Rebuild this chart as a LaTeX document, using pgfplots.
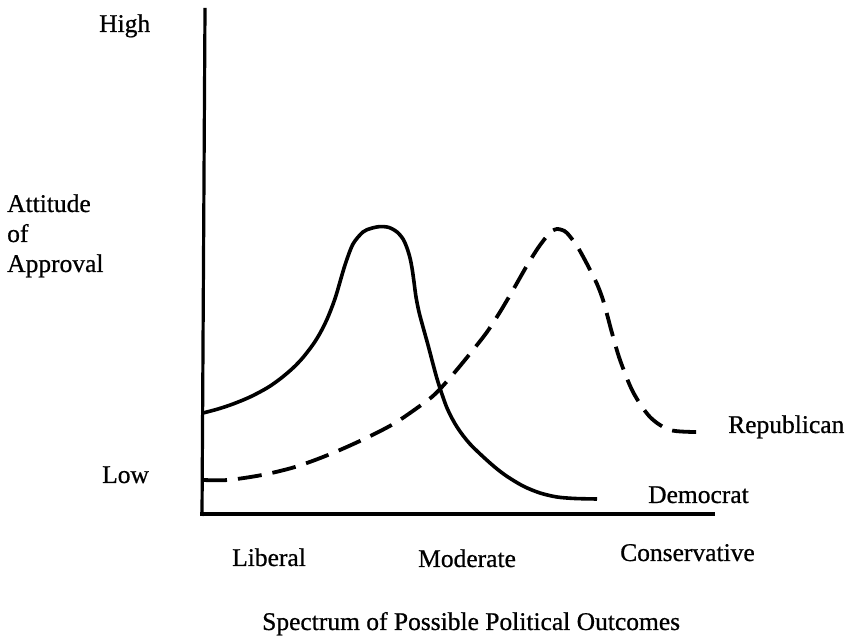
\documentclass[border=0pt]{standalone}
\usepackage{pgfplots}
\pgfplotsset{compat=1.18}
\usepackage{fontspec}
\setmainfont{Liberation Serif}
\newfontfamily\labfont{Liberation Serif}[FakeBold=0.7]
\begin{document}
\begin{tikzpicture}[lab/.style={anchor=base west, font=\labfont\fontsize{25.5}{30}\selectfont, inner sep=0pt}]
\begin{axis}[
  width=850pt, height=634pt, scale only axis,
  xmin=0, xmax=850, ymin=0, ymax=634,
  hide axis, clip=false,
]
% axis lines
\addplot[black, line width=3.2pt] coordinates {(205,626) (202,118)};
\addplot[black, line width=3.2pt] coordinates {(200,120) (715,120)};
% Democrat (solid)
\addplot[black, line width=3.6pt, smooth, tension=0.5] coordinates {
(203,221) (218,225) (233,230) (250,237) (267,246) (280,255) (293,266)
(303,276.5) (313,289.5) (320,300.7) (327,314.7) (333,329.7) (337,341.7)
(345,369) (353,390) (363,402) (371,405.6) (380,407.4) (389,406.5)
(397,402) (403,395) (407,386) (410,376) (412,366) (414,352) (416,337)
(419,322) (423,307) (428,289) (433,270) (438,252) (447,226) (457,207)
(470,190) (490,171) (505,159) (523,148) (540,141) (557,137) (575,135.5)
(597,135)};
% Republican (dashed)
\addplot[black, line width=3.8pt, smooth, tension=0.5, dash pattern=on 24pt off 11pt] coordinates {
(203,154) (228,154) (262,159) (295,167) (328,179) (362,194) (395,211)
(428,234) (440,245) (455,262) (473,284) (487,302) (500,322) (513,344)
(527,368.5) (538,386) (547,398) (552,403) (557,405) (562,404) (567,401)
(577,388) (587,370) (597,350) (603,334) (608,316) (612,301) (620,274)
(633,242) (650,217) (670,204) (697,202)};
% labels
\node[lab] at (axis cs:99,602) {High};
\node[lab] at (axis cs:7,422) {Attitude};
\node[lab] at (axis cs:7,392) {of};
\node[lab] at (axis cs:7,362) {Approval};
\node[lab] at (axis cs:102,151) {Low};
\node[lab] at (axis cs:728,201) {Republican};
\node[lab] at (axis cs:648,131) {Democrat};
\node[lab] at (axis cs:232,68) {Liberal};
\node[lab] at (axis cs:418,67) {Moderate};
\node[lab] at (axis cs:620,73) {Conservative};
\node[lab] at (axis cs:262,4) {Spectrum of Possible Political Outcomes};
\end{axis}
\path (current axis.south west) rectangle (current axis.north east);
\end{tikzpicture}
\end{document}
